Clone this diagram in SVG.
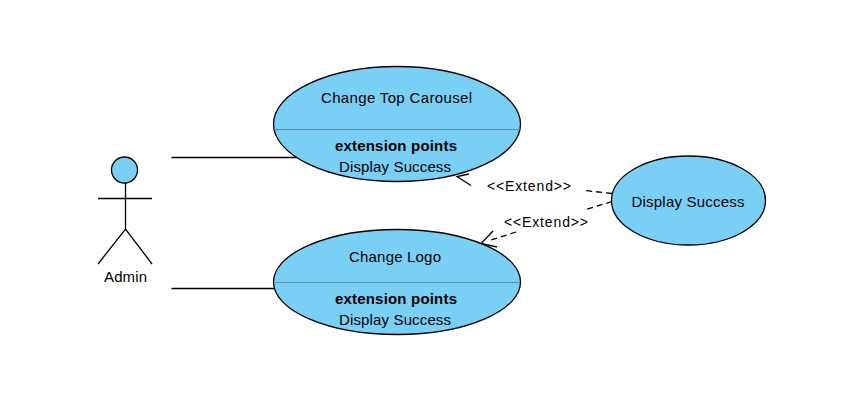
<svg xmlns="http://www.w3.org/2000/svg" width="859" height="401" viewBox="0 0 859 401">
<style>
text{font-family:"Liberation Sans",Arial,sans-serif;font-size:15px;fill:#000;text-anchor:middle}
.b{font-weight:bold}
.lab{font-size:14px}
.s{fill:#7acff5;stroke:#000;stroke-width:1.3}
.d{stroke:#5a8fa8;stroke-width:1;fill:none}
.l{stroke:#000;stroke-width:1.3;fill:none}
.e{stroke-dasharray:6 4}
</style>
<rect width="859" height="401" fill="#fff"/>
<g id="connectors">
<path class="l" d="M171.500 157.500H297"/>
<path class="l" d="M171.500 288.500H274"/>
<path class="l e" d="M612 193.500L585 190.500"/>
<path class="l" d="M471 185.500L457 176.500L469 174"/>
<path class="l e" d="M612 201.500L586 209.500M516 232L488 241"/>
<path class="l" d="M493 231L481 243.500L497 247"/>
<text class="lab" x="529" y="190.500" textLength="84">&lt;&lt;Extend&gt;&gt;</text>
<text class="lab" x="546" y="226.500" textLength="84">&lt;&lt;Extend&gt;&gt;</text>
</g>
<g id="actor-admin">
<circle class="s" cx="124.500" cy="170" r="13"/>
<path class="l" d="M125.500 183V229M98 198.500H152M98 264L125.500 229L152 264"/>
<text x="125.500" y="282" textLength="43">Admin</text>
</g>
<g id="uc-carousel">
<ellipse class="s" cx="397" cy="124" rx="123.500" ry="57.500"/>
<path class="d" d="M274 129.500H520"/>
<text x="396.500" y="103" textLength="151">Change Top Carousel</text>
<text class="b" x="396" y="151" textLength="122">extension points</text>
<text x="395" y="172" textLength="112">Display Success</text>
</g>
<g id="uc-logo">
<ellipse class="s" cx="397" cy="282" rx="123.500" ry="52.500"/>
<path class="d" d="M274 282.500H520"/>
<text x="395" y="262" textLength="92">Change Logo</text>
<text class="b" x="396" y="304" textLength="122">extension points</text>
<text x="395" y="325" textLength="112">Display Success</text>
</g>
<g id="uc-display">
<ellipse class="s" cx="688.500" cy="200.500" rx="77" ry="44.500"/>
<text x="688" y="207" textLength="113">Display Success</text>
</g>
</svg>
